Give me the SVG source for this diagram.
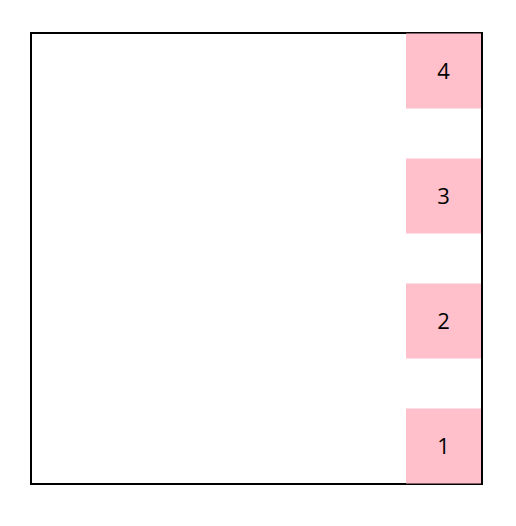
<svg xmlns="http://www.w3.org/2000/svg" width="516" height="526" viewBox="0 0 516 526">
<style>
.box{fill:#FFC0CB;}
.lbl{font-family:"Open Sans","Noto Sans","DejaVu Sans",sans-serif;font-size:22px;fill:#000;text-anchor:middle;dominant-baseline:central;}
</style>
<rect x="0" y="0" width="516" height="526" fill="#fff"/>
<g id="frame"><rect x="31" y="33" width="451" height="451" fill="none" stroke="#000" stroke-width="2"/></g>
<g id="node4"><rect class="box" x="406" y="33.5" width="75" height="75"/><text class="lbl" x="443.5" y="70">4</text></g>
<g id="node3"><rect class="box" x="406" y="158.5" width="75" height="75"/><text class="lbl" x="443.5" y="195">3</text></g>
<g id="node2"><rect class="box" x="406" y="283.5" width="75" height="75"/><text class="lbl" x="443.5" y="320">2</text></g>
<g id="node1"><rect class="box" x="406" y="408.5" width="75" height="75"/><text class="lbl" x="443.5" y="445">1</text></g>
<g id="connectors"></g>
</svg>
